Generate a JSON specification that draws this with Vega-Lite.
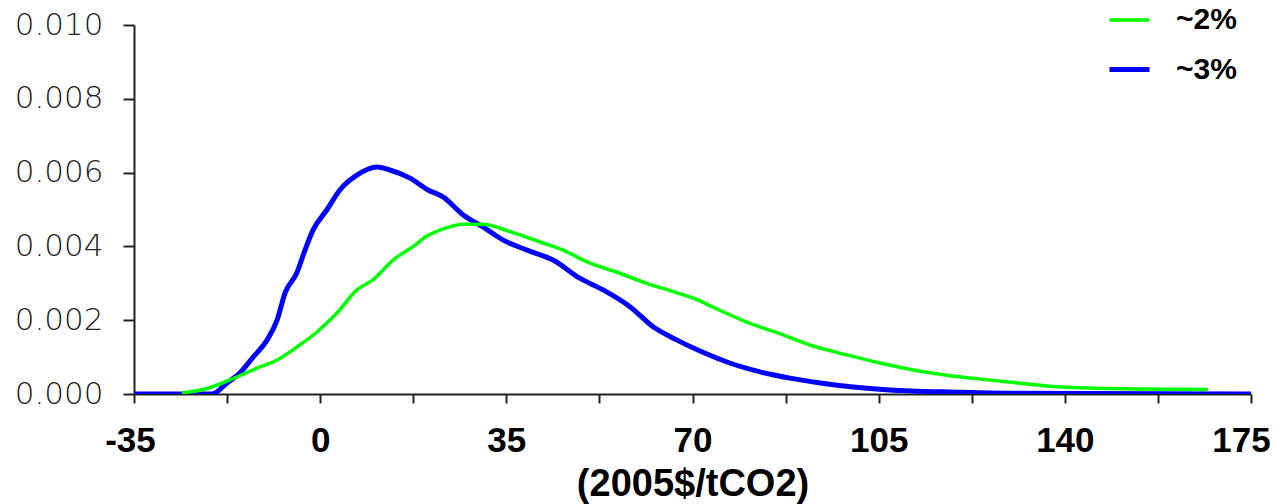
{
  "$schema": "https://vega.github.io/schema/vega-lite/v6.json",
  "width": 1117,
  "height": 369,
  "autosize": {"type": "none"},
  "padding": {"left": 134, "top": 25, "right": 27, "bottom": 110},
  "background": "white",
  "config": {"view": {"stroke": null}},
  "data": {"values": [
    {"x": -35, "y": 0, "s": "~3%"},
    {"x": -25, "y": 0, "s": "~3%"},
    {"x": -20.3, "y": 0, "s": "~3%"},
    {"x": -17.5, "y": 0.0003, "s": "~3%"},
    {"x": -15.1, "y": 0.00057, "s": "~3%"},
    {"x": -12.6, "y": 0.001, "s": "~3%"},
    {"x": -10.0, "y": 0.00146, "s": "~3%"},
    {"x": -8.1, "y": 0.002, "s": "~3%"},
    {"x": -6.6, "y": 0.00274, "s": "~3%"},
    {"x": -4.4, "y": 0.00328, "s": "~3%"},
    {"x": -2.85, "y": 0.0039, "s": "~3%"},
    {"x": -1.35, "y": 0.00444, "s": "~3%"},
    {"x": 1.3, "y": 0.005, "s": "~3%"},
    {"x": 3.7, "y": 0.00553, "s": "~3%"},
    {"x": 6.9, "y": 0.00593, "s": "~3%"},
    {"x": 10.7, "y": 0.00615, "s": "~3%"},
    {"x": 13.1, "y": 0.00607, "s": "~3%"},
    {"x": 16.9, "y": 0.00585, "s": "~3%"},
    {"x": 20.3, "y": 0.00553, "s": "~3%"},
    {"x": 23.1, "y": 0.00534, "s": "~3%"},
    {"x": 26.9, "y": 0.00485, "s": "~3%"},
    {"x": 30.6, "y": 0.00453, "s": "~3%"},
    {"x": 34.4, "y": 0.00417, "s": "~3%"},
    {"x": 38.9, "y": 0.0039, "s": "~3%"},
    {"x": 43.8, "y": 0.00363, "s": "~3%"},
    {"x": 48.8, "y": 0.00314, "s": "~3%"},
    {"x": 53.2, "y": 0.00282, "s": "~3%"},
    {"x": 58.3, "y": 0.00236, "s": "~3%"},
    {"x": 62.6, "y": 0.00182, "s": "~3%"},
    {"x": 67.1, "y": 0.00146, "s": "~3%"},
    {"x": 71.0, "y": 0.00119, "s": "~3%"},
    {"x": 77.0, "y": 0.00084, "s": "~3%"},
    {"x": 82.7, "y": 0.0006, "s": "~3%"},
    {"x": 88.3, "y": 0.00043, "s": "~3%"},
    {"x": 94.0, "y": 0.0003, "s": "~3%"},
    {"x": 100.2, "y": 0.00019, "s": "~3%"},
    {"x": 107.1, "y": 0.00011, "s": "~3%"},
    {"x": 119.7, "y": 0.00005, "s": "~3%"},
    {"x": 130, "y": 0.00002, "s": "~3%"},
    {"x": 175, "y": 0, "s": "~3%"},
    {"x": -26, "y": 0.00003, "s": "~2%"},
    {"x": -22, "y": 0.00012, "s": "~2%"},
    {"x": -17, "y": 0.00038, "s": "~2%"},
    {"x": -11.9, "y": 0.0007, "s": "~2%"},
    {"x": -8.1, "y": 0.00092, "s": "~2%"},
    {"x": -4.4, "y": 0.00127, "s": "~2%"},
    {"x": -0.6, "y": 0.00168, "s": "~2%"},
    {"x": 3.2, "y": 0.0022, "s": "~2%"},
    {"x": 6.9, "y": 0.00282, "s": "~2%"},
    {"x": 9.9, "y": 0.00309, "s": "~2%"},
    {"x": 13.7, "y": 0.00363, "s": "~2%"},
    {"x": 17.5, "y": 0.004, "s": "~2%"},
    {"x": 20.3, "y": 0.0043, "s": "~2%"},
    {"x": 22.5, "y": 0.00444, "s": "~2%"},
    {"x": 26.9, "y": 0.0046, "s": "~2%"},
    {"x": 30.6, "y": 0.0046, "s": "~2%"},
    {"x": 35.7, "y": 0.0044, "s": "~2%"},
    {"x": 41.3, "y": 0.00412, "s": "~2%"},
    {"x": 45.7, "y": 0.0039, "s": "~2%"},
    {"x": 50.2, "y": 0.00358, "s": "~2%"},
    {"x": 55.8, "y": 0.0033, "s": "~2%"},
    {"x": 61.4, "y": 0.003, "s": "~2%"},
    {"x": 66.3, "y": 0.00278, "s": "~2%"},
    {"x": 71.0, "y": 0.00255, "s": "~2%"},
    {"x": 73.9, "y": 0.00235, "s": "~2%"},
    {"x": 80.2, "y": 0.00195, "s": "~2%"},
    {"x": 86.5, "y": 0.00163, "s": "~2%"},
    {"x": 92.7, "y": 0.0013, "s": "~2%"},
    {"x": 99.0, "y": 0.00106, "s": "~2%"},
    {"x": 105.3, "y": 0.00084, "s": "~2%"},
    {"x": 111.5, "y": 0.00065, "s": "~2%"},
    {"x": 117.8, "y": 0.00051, "s": "~2%"},
    {"x": 123.7, "y": 0.00041, "s": "~2%"},
    {"x": 131, "y": 0.0003, "s": "~2%"},
    {"x": 136.6, "y": 0.00022, "s": "~2%"},
    {"x": 144.7, "y": 0.00016, "s": "~2%"},
    {"x": 157.9, "y": 0.00013, "s": "~2%"},
    {"x": 166.9, "y": 0.00012, "s": "~2%"}
  ]},
  "mark": {"type": "line", "interpolate": "monotone", "clip": true},
  "encoding": {
    "x": {
      "field": "x", "type": "quantitative",
      "scale": {"domain": [-35, 175], "nice": false, "zero": false},
      "axis": {
        "values": [-35, -17.5, 0, 17.5, 35, 52.5, 70, 87.5, 105, 122.5, 140, 157.5, 175],
        "labelExpr": "datum.value % 35 == 0 ? '' + datum.value : ''",
        "labelOffset": {"condition": [{"test": "datum.value == 175", "value": -10}, {"test": "datum.value == -35", "value": -4}], "value": 0},
        "grid": false,
        "tickSize": 9, "tickWidth": 2, "tickColor": "#222",
        "domainColor": "#222", "domainWidth": 2,
        "labelFont": "Liberation Sans",
        "labelFontWeight": "bold", "labelFontSize": 35, "labelColor": "black",
        "labelBaseline": "alphabetic",
        "labelPadding": 48, "labelFlush": false, "labelOverlap": false,
        "title": "(2005$/tCO2)",
        "titleFont": "Liberation Sans",
        "titleFontWeight": "bold", "titleFontSize": 38, "titleColor": "black",
        "titleY": 101, "titleBaseline": "alphabetic"
      }
    },
    "y": {
      "field": "y", "type": "quantitative",
      "scale": {"domain": [0, 0.01], "nice": false},
      "axis": {
        "values": [0, 0.002, 0.004, 0.006, 0.008, 0.01],
        "format": ".3f",
        "grid": false,
        "tickSize": 11, "tickWidth": 2, "tickColor": "#222",
        "domainColor": "#222", "domainWidth": 2,
        "labelFont": "DejaVu Sans", "labelFontWeight": 200, "labelFontSize": 31, "labelColor": "#222",
        "labelPadding": 20, "labelFlush": false, "labelOverlap": false,
        "title": null
      }
    },
    "color": {
      "field": "s", "type": "nominal",
      "scale": {"domain": ["~2%", "~3%"], "range": ["#00ff00", "#0000ff"]},
      "legend": {
        "title": null, "orient": "none", "legendX": 973, "legendY": -27,
        "symbolType": "stroke", "symbolSize": 1600,
        "labelFont": "Liberation Sans", "labelFontWeight": "bold", "labelFontSize": 30, "labelColor": "black",
        "labelOffset": 24, "rowPadding": 12, "padding": 0
      }
    },
    "strokeWidth": {
      "field": "s", "type": "nominal",
      "scale": {"domain": ["~2%", "~3%"], "range": [3.5, 5]}
    }
  }
}
